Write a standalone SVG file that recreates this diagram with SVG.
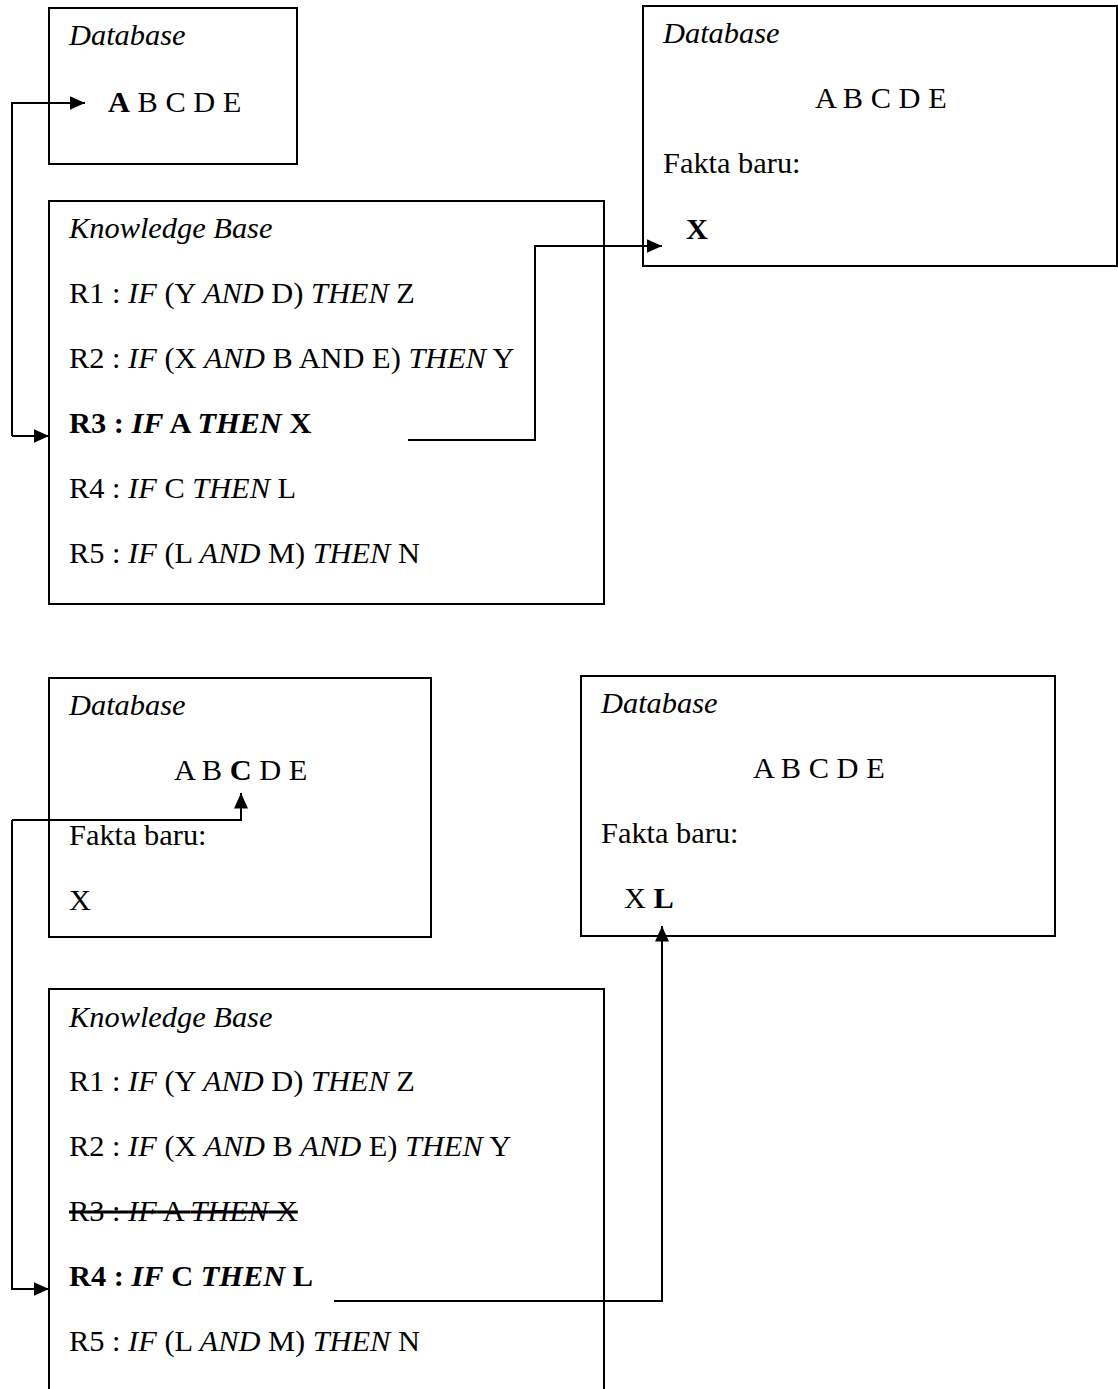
<svg xmlns="http://www.w3.org/2000/svg" width="1118" height="1389" viewBox="0 0 1118 1389">
  <style>
    .box { fill: none; stroke: #000; stroke-width: 2; }
    .wire { fill: none; stroke: #000; stroke-width: 2; }
    .t { font-size: 30.4px; fill: #000; }
    .i { font-style: italic; }
    .b { font-weight: bold; }
    .bi { font-weight: bold; font-style: italic; }
  </style>
  <defs>
    <marker id="head" markerUnits="userSpaceOnUse" markerWidth="17" markerHeight="15" refX="15.5" refY="7" orient="auto">
      <path d="M0,0 L15.5,7 L0,14 Z" fill="#000"/>
    </marker>
  </defs>
  <rect width="1118" height="1389" fill="#fff"/>

  <g class="t" font-family="Liberation Serif, DejaVu Serif, serif">
  <!-- Step 1: database before firing R3 -->
  <g id="db1">
    <rect class="box" x="49" y="8" width="248" height="156"/>
    <text x="69" y="45" class="i">Database</text>
    <text x="108" y="112" xml:space="preserve"><tspan class="b">A</tspan> B C D E</text>
  </g>

  <!-- Step 1: knowledge base -->
  <g id="kb1">
    <rect class="box" x="49" y="201" width="555" height="403"/>
    <text x="69" y="238" class="i">Knowledge Base</text>
    <text x="69" y="303" xml:space="preserve">R1 : <tspan class="i">IF</tspan> (Y <tspan class="i">AND</tspan> D) <tspan class="i">THEN</tspan> Z</text>
    <text x="69" y="368" xml:space="preserve">R2 : <tspan class="i">IF</tspan> (X <tspan class="i">AND</tspan> B AND E) <tspan class="i">THEN</tspan> Y</text>
    <text x="69" y="433" class="b" xml:space="preserve">R3 : <tspan class="bi">IF</tspan> A <tspan class="bi">THEN</tspan> X</text>
    <text x="69" y="498" xml:space="preserve">R4 : <tspan class="i">IF</tspan> C <tspan class="i">THEN</tspan> L</text>
    <text x="69" y="563" xml:space="preserve">R5 : <tspan class="i">IF</tspan> (L <tspan class="i">AND</tspan> M) <tspan class="i">THEN</tspan> N</text>
  </g>

  <!-- Step 1: database after firing R3 -->
  <g id="db2">
    <rect class="box" x="643" y="6" width="474" height="260"/>
    <text x="663" y="43" class="i">Database</text>
    <text x="815" y="108">A B C D E</text>
    <text x="663" y="173">Fakta baru:</text>
    <text x="686" y="239" class="b">X</text>
  </g>

  <!-- Step 2: database before firing R4 -->
  <g id="db3">
    <rect class="box" x="49" y="678" width="382" height="259"/>
    <text x="69" y="715" class="i">Database</text>
    <text x="174" y="780" xml:space="preserve">A B <tspan class="b">C</tspan> D E</text>
    <text x="69" y="845">Fakta baru:</text>
    <text x="69" y="910">X</text>
  </g>

  <!-- Step 2: database after firing R4 -->
  <g id="db4">
    <rect class="box" x="581" y="676" width="474" height="260"/>
    <text x="601" y="713" class="i">Database</text>
    <text x="753" y="778">A B C D E</text>
    <text x="601" y="843">Fakta baru:</text>
    <text x="624" y="908" xml:space="preserve">X <tspan class="b">L</tspan></text>
  </g>

  <!-- Step 2: knowledge base (runs past the bottom edge) -->
  <g id="kb2">
    <path class="box" d="M49,1395 V989 H604 V1395"/>
    <text x="69" y="1027" class="i">Knowledge Base</text>
    <text x="69" y="1091" xml:space="preserve">R1 : <tspan class="i">IF</tspan> (Y <tspan class="i">AND</tspan> D) <tspan class="i">THEN</tspan> Z</text>
    <text x="69" y="1156" xml:space="preserve">R2 : <tspan class="i">IF</tspan> (X <tspan class="i">AND</tspan> B <tspan class="i">AND</tspan> E) <tspan class="i">THEN</tspan> Y</text>
    <text x="69" y="1221" text-decoration="line-through" xml:space="preserve">R3 : <tspan class="i">IF</tspan> A <tspan class="i">THEN</tspan> X</text>
    <text x="69" y="1286" class="b" xml:space="preserve">R4 : <tspan class="bi">IF</tspan> C <tspan class="bi">THEN</tspan> L</text>
    <text x="69" y="1351" xml:space="preserve">R5 : <tspan class="i">IF</tspan> (L <tspan class="i">AND</tspan> M) <tspan class="i">THEN</tspan> N</text>
  </g>
  </g>

  <!-- connectors -->
  <g id="connectors">
    <path class="wire" d="M12,436 V103 H85" marker-end="url(#head)"/>
    <path class="wire" d="M12,436 H49" marker-end="url(#head)"/>
    <path class="wire" d="M408,440 H535 V246 H662" marker-end="url(#head)"/>
    <path class="wire" d="M12,820 V1289 H49" marker-end="url(#head)"/>
    <path class="wire" d="M12,820 H241 V793" marker-end="url(#head)"/>
    <path class="wire" d="M334,1301 H662 V926" marker-end="url(#head)"/>
  </g>
</svg>
